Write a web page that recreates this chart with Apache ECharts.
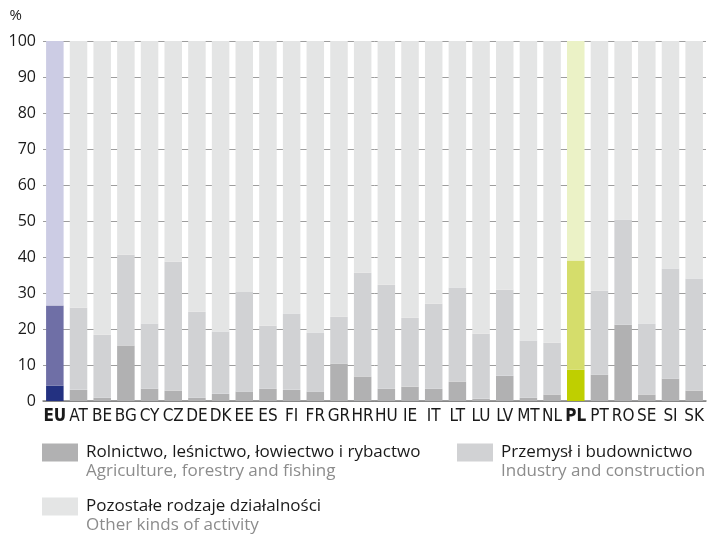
<!DOCTYPE html>
<html><head><meta charset="utf-8">
<script src="https://cdn.jsdelivr.net/npm/echarts@6/dist/echarts.min.js"></script>
<style>html,body{margin:0;padding:0;background:#fff}#c{width:707px;height:534px}</style>
</head><body><div id="c"></div>
<script>
var categories = ['EU','AT','BE','BG','CY','CZ','DE','DK','EE','ES','FI','FR','GR','HR','HU','IE','IT','LT','LU','LV','MT','NL','PL','PT','RO','SE','SI','SK'];
var agriculture = [4.3,3.1,0.9,15.4,3.4,2.9,0.9,2.0,2.6,3.4,3.1,2.6,10.4,6.8,3.4,4.0,3.4,5.4,0.6,7.0,0.9,1.8,8.7,7.3,21.2,1.8,6.2,2.9];
var industry =    [22.2,22.8,17.5,25.2,18.1,35.8,23.9,17.3,27.7,17.5,21.2,16.4,13.0,28.8,28.9,19.1,23.6,26.1,18.1,23.9,15.9,14.4,30.3,23.3,29.2,19.7,30.6,31.1];
var other =       [73.5,74.1,81.6,59.4,78.5,61.3,75.2,80.7,69.7,79.1,75.7,81.0,76.6,64.4,67.7,76.9,73.0,68.5,81.3,69.1,83.2,83.8,61.0,69.4,49.6,78.5,63.2,66.0];
var yTicks = [0,10,20,30,40,50,60,70,80,90,100];
var seriesNames = [
  ['Rolnictwo, leśnictwo, łowiectwo i rybactwo','Agriculture, forestry and fishing'],
  ['Przemysł i budownictwo','Industry and construction'],
  ['Pozostałe rodzaje działalności','Other kinds of activity']
];
var baseColors = ['#b1b1b2','#d1d2d4','#e4e5e5'];
var euColors = ['#233181','#6f6fa6','#cccce4'];
var plColors = ['#bfcf00','#d5dd6b','#ebf2c6'];
var FONT = 'Open Sans';
var NARROW = "'Liberation Sans Narrow','DejaVu Sans Condensed','Open Sans',sans-serif";

function mk(vals, i){
  return vals.map(function(v, k){
    var c = categories[k];
    if (c === 'EU') return {value: v, itemStyle: {color: euColors[i]}};
    if (c === 'PL') return {value: v, itemStyle: {color: plColors[i]}};
    return v;
  });
}
var dataSets = [agriculture, industry, other];
var series = dataSets.map(function(d, i){
  return {
    name: seriesNames[i][0], type: 'bar', stack: 'all', data: mk(d, i),
    barCategoryGap: '26%', itemStyle: {color: baseColors[i]}, silent: true
  };
});
var subMap = {};
seriesNames.forEach(function(n){ subMap[n[0]] = n[1]; });
var LH = 19;
function legendOf(name, left, top){
  return {
    data: [name], left: left, top: top, orient: 'vertical', padding: 0,
    itemWidth: 36, itemHeight: 18, itemGap: 0, selectedMode: false,
    icon: 'rect',
    formatter: function(n){ return '{e| }\n{a|' + n + '}\n{b|' + subMap[n] + '}'; },
    textStyle: {
      fontFamily: FONT, padding: [0,0,0,3],
      rich: {
        e: {fontSize: 17, lineHeight: LH, fontFamily: FONT},
        a: {fontSize: 17, lineHeight: LH, color: '#1a1a1a', fontFamily: FONT},
        b: {fontSize: 17, lineHeight: LH, color: '#8c8c8c', fontFamily: FONT}
      }
    }
  };
}
var chart = echarts.init(document.getElementById('c'), null, {renderer: 'canvas'});
chart.setOption({
  animation: false,
  grid: {left: 43, top: 41, width: 665, height: 360, containLabel: false},
  legend: [
    legendOf(seriesNames[0][0], 42, 425),
    legendOf(seriesNames[1][0], 457, 425),
    legendOf(seriesNames[2][0], 42, 479)
  ],
  xAxis: {
    type: 'category', data: categories,
    axisTick: {show: false},
    axisLine: {lineStyle: {color: '#7f7f7f', width: 1.5}},
    axisLabel: {
      interval: 0, margin: 7, fontFamily: NARROW, fontSize: 17, color: '#1a1a1a',
      formatter: function(v){ return (v === 'EU' || v === 'PL') ? '{b|' + v + '}' : v; },
      rich: {b: {fontWeight: 'bold', fontSize: 17, fontFamily: NARROW, color: '#1a1a1a'}}
    }
  },
  yAxis: {
    type: 'value', min: yTicks[0], max: yTicks[yTicks.length-1], interval: 10,
    name: '%', nameLocation: 'end', nameGap: 18,
    nameTextStyle: {fontFamily: FONT, fontSize: 15, color: '#1a1a1a', align: 'right', padding: [0, 21, 0, 0]},
    axisLine: {show: false}, axisTick: {show: false},
    axisLabel: {fontFamily: FONT, fontSize: 16, color: '#1a1a1a', margin: 7},
    splitLine: {lineStyle: {color: '#9d9d9d', width: 1}}
  },
  series: series
});
</script></body></html>
